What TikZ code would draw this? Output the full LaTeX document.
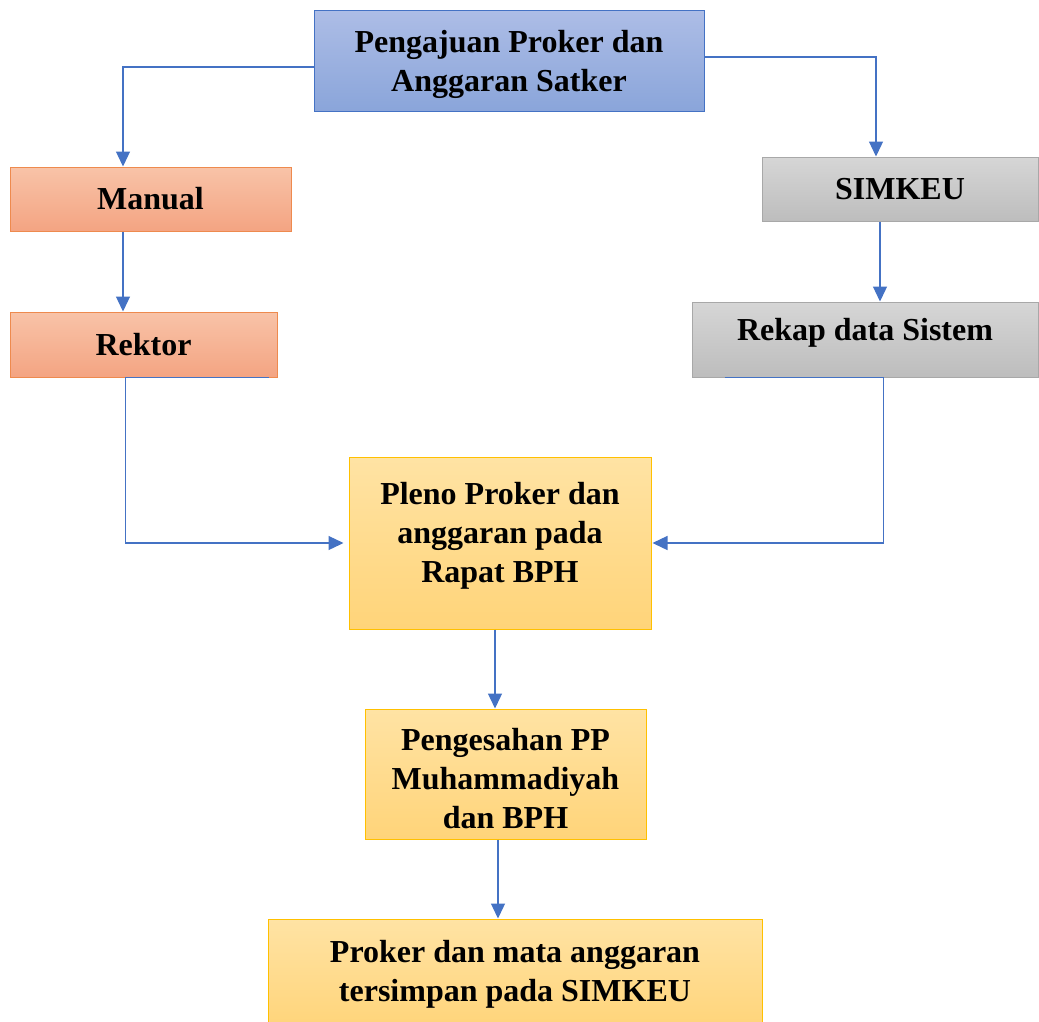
\documentclass[tikz,border=0pt]{standalone}
\usepackage{fontspec}
\setmainfont{Liberation Serif}
\usetikzlibrary{arrows.meta}

\definecolor{lineblue}{HTML}{4472C4}
\definecolor{blueTop}{HTML}{ADBDE6}
\definecolor{blueBot}{HTML}{8AA5DA}
\definecolor{orTop}{HTML}{F8C3A8}
\definecolor{orBot}{HTML}{F4A482}
\definecolor{orLine}{HTML}{EE8A4E}
\definecolor{grTop}{HTML}{D6D6D6}
\definecolor{grBot}{HTML}{BDBDBD}
\definecolor{grLine}{HTML}{A8A8A8}
\definecolor{yeTop}{HTML}{FFE3A4}
\definecolor{yeBot}{HTML}{FFD479}
\definecolor{yeLine}{HTML}{FFC000}

\begin{document}
\begin{tikzpicture}[x=1pt,y=-1pt,
    flow/.style={-{Triangle[width=14pt,length=15pt]},draw=lineblue,line width=1.3pt},
    font=\fontsize{32}{39}\selectfont\bfseries]
    \tikzstyle{box}=[rectangle,align=center,inner sep=0pt,line width=1pt]
    \tikzstyle{bluebox}=[box,draw=lineblue,top color=blueTop,bottom color=blueBot]
    \tikzstyle{orbox}=[box,draw=orLine,top color=orTop,bottom color=orBot]
    \tikzstyle{grbox}=[box,draw=grLine,top color=grTop,bottom color=grBot]
    \tikzstyle{yebox}=[box,draw=yeLine,top color=yeTop,bottom color=yeBot]

    \useasboundingbox (0,0) rectangle (1039,1021);

    \node[bluebox,minimum width=390pt,minimum height=101pt,text depth=0pt] (aju) at (509,60.5) {Pengajuan Proker dan\\Anggaran Satker};
    \node[orbox,minimum width=281pt,minimum height=64pt]    (manual) at (150.5,199) {Manual};
    \node[orbox,minimum width=267pt,minimum height=65pt]    (rektor) at (143.5,344.5) {Rektor};
    \node[grbox,minimum width=276pt,minimum height=64pt]    (simkeu) at (900,189)   {SIMKEU};
    \node[grbox,minimum width=346pt,minimum height=75pt,text depth=20pt] (rekap) at (865,339.5) {Rekap data Sistem};
    \node[yebox,minimum width=302pt,minimum height=172pt,text depth=21pt] (pleno) at (500,543) {Pleno Proker dan\\anggaran pada\\Rapat BPH};
    \node[yebox,minimum width=281pt,minimum height=130pt,text height=109pt] (sah) at (505.5,774) {Pengesahan PP\\Muhammadiyah\\dan BPH};
    \node[yebox,minimum width=494pt,minimum height=111pt]   (simpan) at (515,974.5) {Proker dan mata anggaran\\tersimpan pada SIMKEU};

    \draw[flow] ([yshift=-6.5pt]aju.west) -| ([xshift=-27.5pt]manual.north);
    \draw[flow] ([yshift=3.5pt]aju.east) -| ([xshift=-24pt]simkeu.north);
    \draw[flow] ([xshift=-27.5pt]manual.south) -- ([xshift=-27.5pt]manual.south |- rektor.north);
    \draw[flow] ([xshift=-20pt]simkeu.south) -- ([xshift=-20pt]simkeu.south |- rekap.north);
    \draw[flow,shorten >=5pt] ([xshift=-9pt]rektor.south east) -- ++(-143,0) |- (pleno.west);
    \draw[flow,shorten >=1pt] ([xshift=33pt]rekap.south west) -- ++(159,0) |- (pleno.east);
    \draw[flow] ([xshift=-5pt]pleno.south) -- ([xshift=-5pt]pleno.south |- sah.north);
    \draw[flow] ([xshift=-7.5pt]sah.south) -- ([xshift=-7.5pt]sah.south |- simpan.north);
  \end{tikzpicture}
\end{document}
